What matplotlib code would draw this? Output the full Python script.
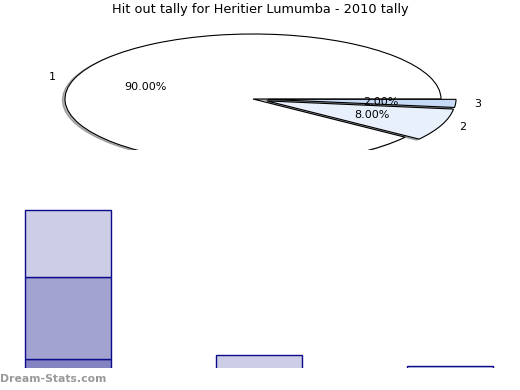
import matplotlib
matplotlib.use("Agg")
import matplotlib.pyplot as plt

# Hit outs by category (pie shares come from these totals)
categories = ["1", "2", "3"]
dark_vals = [3, 0, 0]
mid_vals = [23, 0, 0]
light_vals = [19, 4, 1]
totals = [d + m + l for d, m, l in zip(dark_vals, mid_vals, light_vals)]

slice_colors = ["#ffffff", "#e8f0fc", "#c6daf6"]
bar_colors = ["#8383c1", "#a3a3d2", "#cdcde5"]
edge = "#0a0a8a"

W, H = 520, 390
fig = plt.figure(figsize=(W / 100, H / 100), dpi=100)
fig.patch.set_facecolor("white")

def px_axes(x0, y0, x1, y1):
    # pixel box (top-left origin) -> figure fraction axes
    return fig.add_axes([x0 / W, 1 - y1 / H, (x1 - x0) / W, (y1 - y0) / H])

# --- squashed pie, clipped at the bottom ---
cx, cy, rx, ry = 253, 99, 188, 65
top, bottom = 20, 150
ax = px_axes(0, top, W, bottom)
ax.pie(totals, labels=categories, colors=slice_colors, autopct="%.2f%%",
       startangle=0, explode=[0, 0.08, 0.08],
       shadow=dict(ox=-0.01, oy=-0.012, shade=0.6),
       labeldistance=1.1, pctdistance=0.6,
       wedgeprops=dict(edgecolor="black", linewidth=0.8),
       textprops=dict(fontsize=8))
for p in ax.patches:
    p.set_clip_on(True)
    p.set_clip_path(ax.patch)
ax.set_aspect("auto")
ax.set_xlim(-cx / rx, (W - cx) / rx)
ax.set_ylim(-(bottom - cy) / ry, (cy - top) / ry)
ax.axis("off")

fig.text(0.5, 1 - 10 / H, "Hit out tally for Heritier Lumumba - 2010 tally",
         ha="center", va="center", fontsize=9.3)

# --- stacked bars, clipped at the bottom ---
base, scale = 369.2, 3.53
b_top, b_bot = 190, 368
bx = px_axes(0, b_top, W, b_bot)
x = [0, 1, 2]
bottoms = [0, 0, 0]
for vals, col in zip([dark_vals, mid_vals, light_vals], bar_colors):
    xs = [xi for xi, v in zip(x, vals) if v > 0]
    hs = [v for v in vals if v > 0]
    bs = [b for b, v in zip(bottoms, vals) if v > 0]
    bx.bar(xs, hs, bottom=bs, width=0.45, color=col, edgecolor=edge, linewidth=1)
    bottoms = [b + v for b, v in zip(bottoms, vals)]
bx.set_xlim((0 - 68) / 191, (W - 68) / 191)
bx.set_ylim((base - b_bot) / scale, (base - b_top) / scale)
bx.axis("off")

fig.text(0 / W, 1 - 379 / H, "Dream-Stats.com", ha="left", va="center",
         fontsize=7.8, color="#9a9a9a", fontweight="bold")

fig.savefig("out.png", dpi=100)
